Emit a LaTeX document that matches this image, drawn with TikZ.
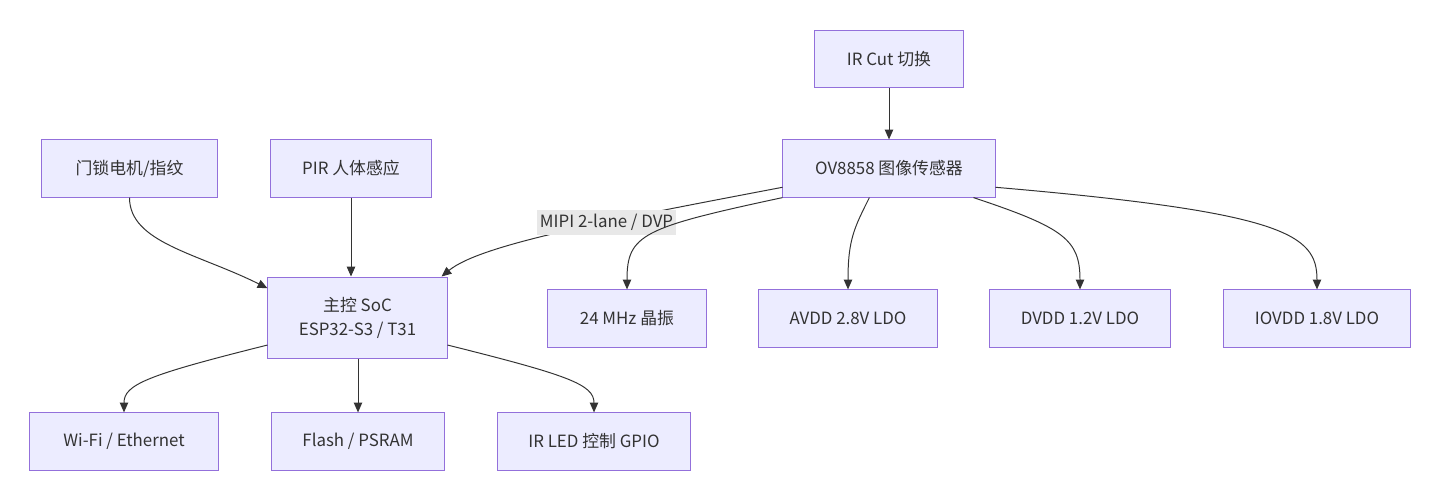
\documentclass[tikz,border=0pt]{standalone}
\usepackage{fontspec}
\setmainfont{Noto Sans CJK SC}
\usepackage{xcolor}
\usetikzlibrary{arrows.meta,positioning,calc}
\definecolor{boxfill}{HTML}{ECECFF}
\definecolor{boxline}{HTML}{9370DB}
\definecolor{ink}{HTML}{333333}
\definecolor{lblfill}{HTML}{E8E8E8}

\begin{document}
\begin{tikzpicture}[x=0.025cm, y=-0.025cm, >={Triangle[length=7pt,width=6pt]},
  font=\fontsize{12}{14}\selectfont,
  blk/.style={draw=boxline, fill=boxfill, text=ink, line width=0.7pt, minimum height=1.43cm, inner sep=0pt},
  link/.style={->, draw=ink, line width=0.7pt}]
\useasboundingbox (0,0) rectangle (1440,501);
% sensor side
\node[blk, minimum width=3.7cm] (ircut) at (889,59) {IR Cut 切换};
\node[blk, minimum width=5.3cm] (ov) at (889,168.5) {OV8858 图像传感器};
\node[blk, minimum width=3.95cm] (osc) at (627,318.5) {24 MHz 晶振};
\node[blk, minimum width=4.45cm] (avdd) at (848,318.5) {AVDD 2.8V LDO};
\node[blk, minimum width=4.5cm] (dvdd) at (1080,318.5) {DVDD 1.2V LDO};
\node[blk, minimum width=4.65cm] (iovdd) at (1317,318.5) {IOVDD 1.8V LDO};
% controller side
\node[blk, minimum width=4.375cm] (door) at (129.5,168.5) {门锁电机/指纹};
\node[blk, minimum width=4cm] (pir) at (351,168.5) {PIR 人体感应};
\node[blk, minimum width=4.475cm, minimum height=2.025cm, align=center,
  font=\fontsize{12}{17}\selectfont] (soc) at (357.5,317.5) {主控 SoC\\ESP32-S3 / T31};
\node[blk, minimum width=4.7cm] (wifi) at (124,441.5) {Wi-Fi / Ethernet};
\node[blk, minimum width=4.3cm] (flash) at (358,441.5) {Flash / PSRAM};
\node[blk, minimum width=4.8cm] (irled) at (594,441.5) {IR LED 控制 GPIO};

\draw[link] (ircut) -- (ov);
\draw[link] (door.south) .. controls +(0,45) and +(-70,-35) .. (soc.162);
\draw[link] (pir.south) -- (pir.south |- soc.north);
\draw[link] (ov.190) .. controls (600,222) and (480,245) .. (soc.26)
  node[pos=0.37, fill=lblfill, text=ink, inner sep=2pt, minimum height=0.625cm] (mipi) {MIPI 2-lane / DVP};
\draw[link] (ov.south west) .. controls +(-140,30) and +(0,-55) .. (osc.north);
\draw[link] (ov.236) .. controls +(-15,30) and +(0,-50) .. (avdd.north);
\draw[link] (ov.-19) .. controls +(90,30) and +(0,-50) .. (dvdd.north);
\draw[link] (ov.-10) .. controls +(290,25) and +(0,-55) .. (iovdd.north);
\draw[link] (soc.197) .. controls +(-120,30) and +(0,-28) .. (wifi.north);
\draw[link] (soc.south -| flash.north) -- (flash.north);
\draw[link] (soc.-17) .. controls +(120,30) and +(0,-28) .. (irled.north);
\end{tikzpicture}
\end{document}
